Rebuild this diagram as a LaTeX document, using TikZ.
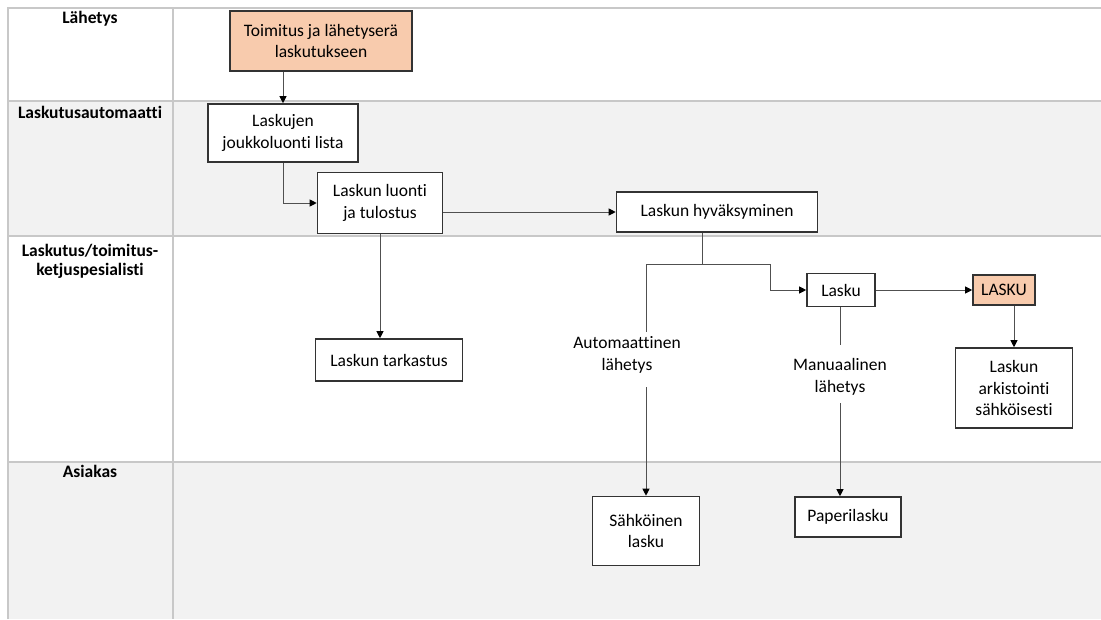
\documentclass[tikz,border=0pt]{standalone}
\usepackage{fontspec}
\setmainfont{Carlito}[Ligatures={NoCommon}]
\usetikzlibrary{arrows.meta}
\definecolor{lanegray}{HTML}{F2F2F2}
\definecolor{gridgray}{HTML}{C8C8C8}
\definecolor{peach}{HTML}{F8CBAD}
\definecolor{linegray}{HTML}{505050}

\begin{document}
\begin{tikzpicture}[
    x=1pt, y=-1pt,
    font=\fontsize{17.5}{21.5}\selectfont,
    box/.style={rectangle, draw=black!80, line width=1.6pt, fill=white,
                align=center, inner sep=2pt},
    hilite/.style={box, fill=peach},
    lane/.style={font=\fontsize{17.5}{19}\selectfont\bfseries, align=center,
                 anchor=north, inner sep=0pt},
    lbl/.style={align=center, inner sep=0pt},
    line/.style={draw=linegray, line width=1pt},
    arrow/.style={line, -{Triangle[length=7pt, width=7pt, color=black]}}
]
\useasboundingbox (0,0) rectangle (1101,619);
% swimlanes
\fill[lanegray] (8,101) rectangle (1101,236);
\fill[lanegray] (8,462) rectangle (1101,619);
\draw[gridgray, line width=1.5pt] (8,619) -- (8,8) -- (1101,8);
\foreach \y in {101,236,462}
    \draw[gridgray, line width=1.5pt] (8,\y) -- (1101,\y);
\draw[gridgray, line width=1.5pt] (173,8) -- (173,619);

\node[lane] (laneship) at (90,11) {Lähetys};
\node[lane] (laneauto) at (90,106) {Laskutusautomaatti};
\node[lane] (lanespec) at (90,244) {Laskutus/toimitus-\\ketjuspesialisti};
\node[lane] (lanecust) at (90,465) {Asiakas};

% process steps
\node[hilite, minimum width=182pt, minimum height=60pt] (toimitus) at (321,41)
    {Toimitus ja lähetyserä\\laskutukseen};
\node[box, minimum width=150pt, minimum height=58pt] (joukko) at (283,133)
    {Laskujen\\joukkoluonti lista};
\node[box, minimum width=125pt, minimum height=61pt] (luonti) at (380,203)
    {Laskun luonti\\ja tulostus};
\node[box, minimum width=201pt, minimum height=40pt] (hyvaksy) at (717,212)
    {Laskun hyväksyminen};
\node[box, minimum width=147pt, minimum height=42pt] (tarkastus) at (389,360)
    {Laskun tarkastus};
\node[box, minimum width=68pt, minimum height=33pt] (lasku) at (841,290)
    {Lasku};
\node[hilite, minimum width=62pt, minimum height=30pt] (laskuarch) at (1004,290)
    {LASKU};
\node[box, minimum width=117pt, minimum height=80pt] (arkisto) at (1014,388)
    {Laskun\\arkistointi\\sähköisesti};
\node[box, minimum width=107pt, minimum height=69pt] (sahko) at (646,531)
    {Sähköinen\\lasku};
\node[box, minimum width=106pt, minimum height=40pt] (paperi) at (848,517)
    {Paperilasku};

\node[lbl] (autolbl) at (627,355) {Automaattinen\\lähetys};
\node[lbl] (manlbl) at (840,377) {Manuaalinen\\lähetys};

\coordinate (split) at (702,264);
\coordinate (bend) at (770,264);

% connectors
\draw[arrow] (toimitus.south -| joukko.north) -- (joukko.north);
\draw[arrow] (joukko.south) |- (luonti.west);
\draw[arrow] (luonti.east |- hyvaksy) -- (hyvaksy.west);
\draw[arrow] (luonti.south) -- (tarkastus.north -| luonti.south);
\draw[line] (hyvaksy.south -| split) -- (split);
\draw[line] (split) -| ([yshift=5pt]sahko.north |- autolbl.north);
\draw[arrow] (split) -- (bend) |- (lasku.west);
\draw[arrow] ([yshift=-14pt]sahko.north |- autolbl.south) -- (sahko.north);
\draw[arrow] (lasku.east) -- (laskuarch.west);
\draw[arrow] (laskuarch.south -| arkisto.north) -- (arkisto.north);
\draw[line] (lasku.south -| manlbl) -- ([yshift=14pt]manlbl.north);
\draw[arrow] ([yshift=-8pt]manlbl.south) -- (paperi.north -| manlbl);
\end{tikzpicture}
\end{document}
